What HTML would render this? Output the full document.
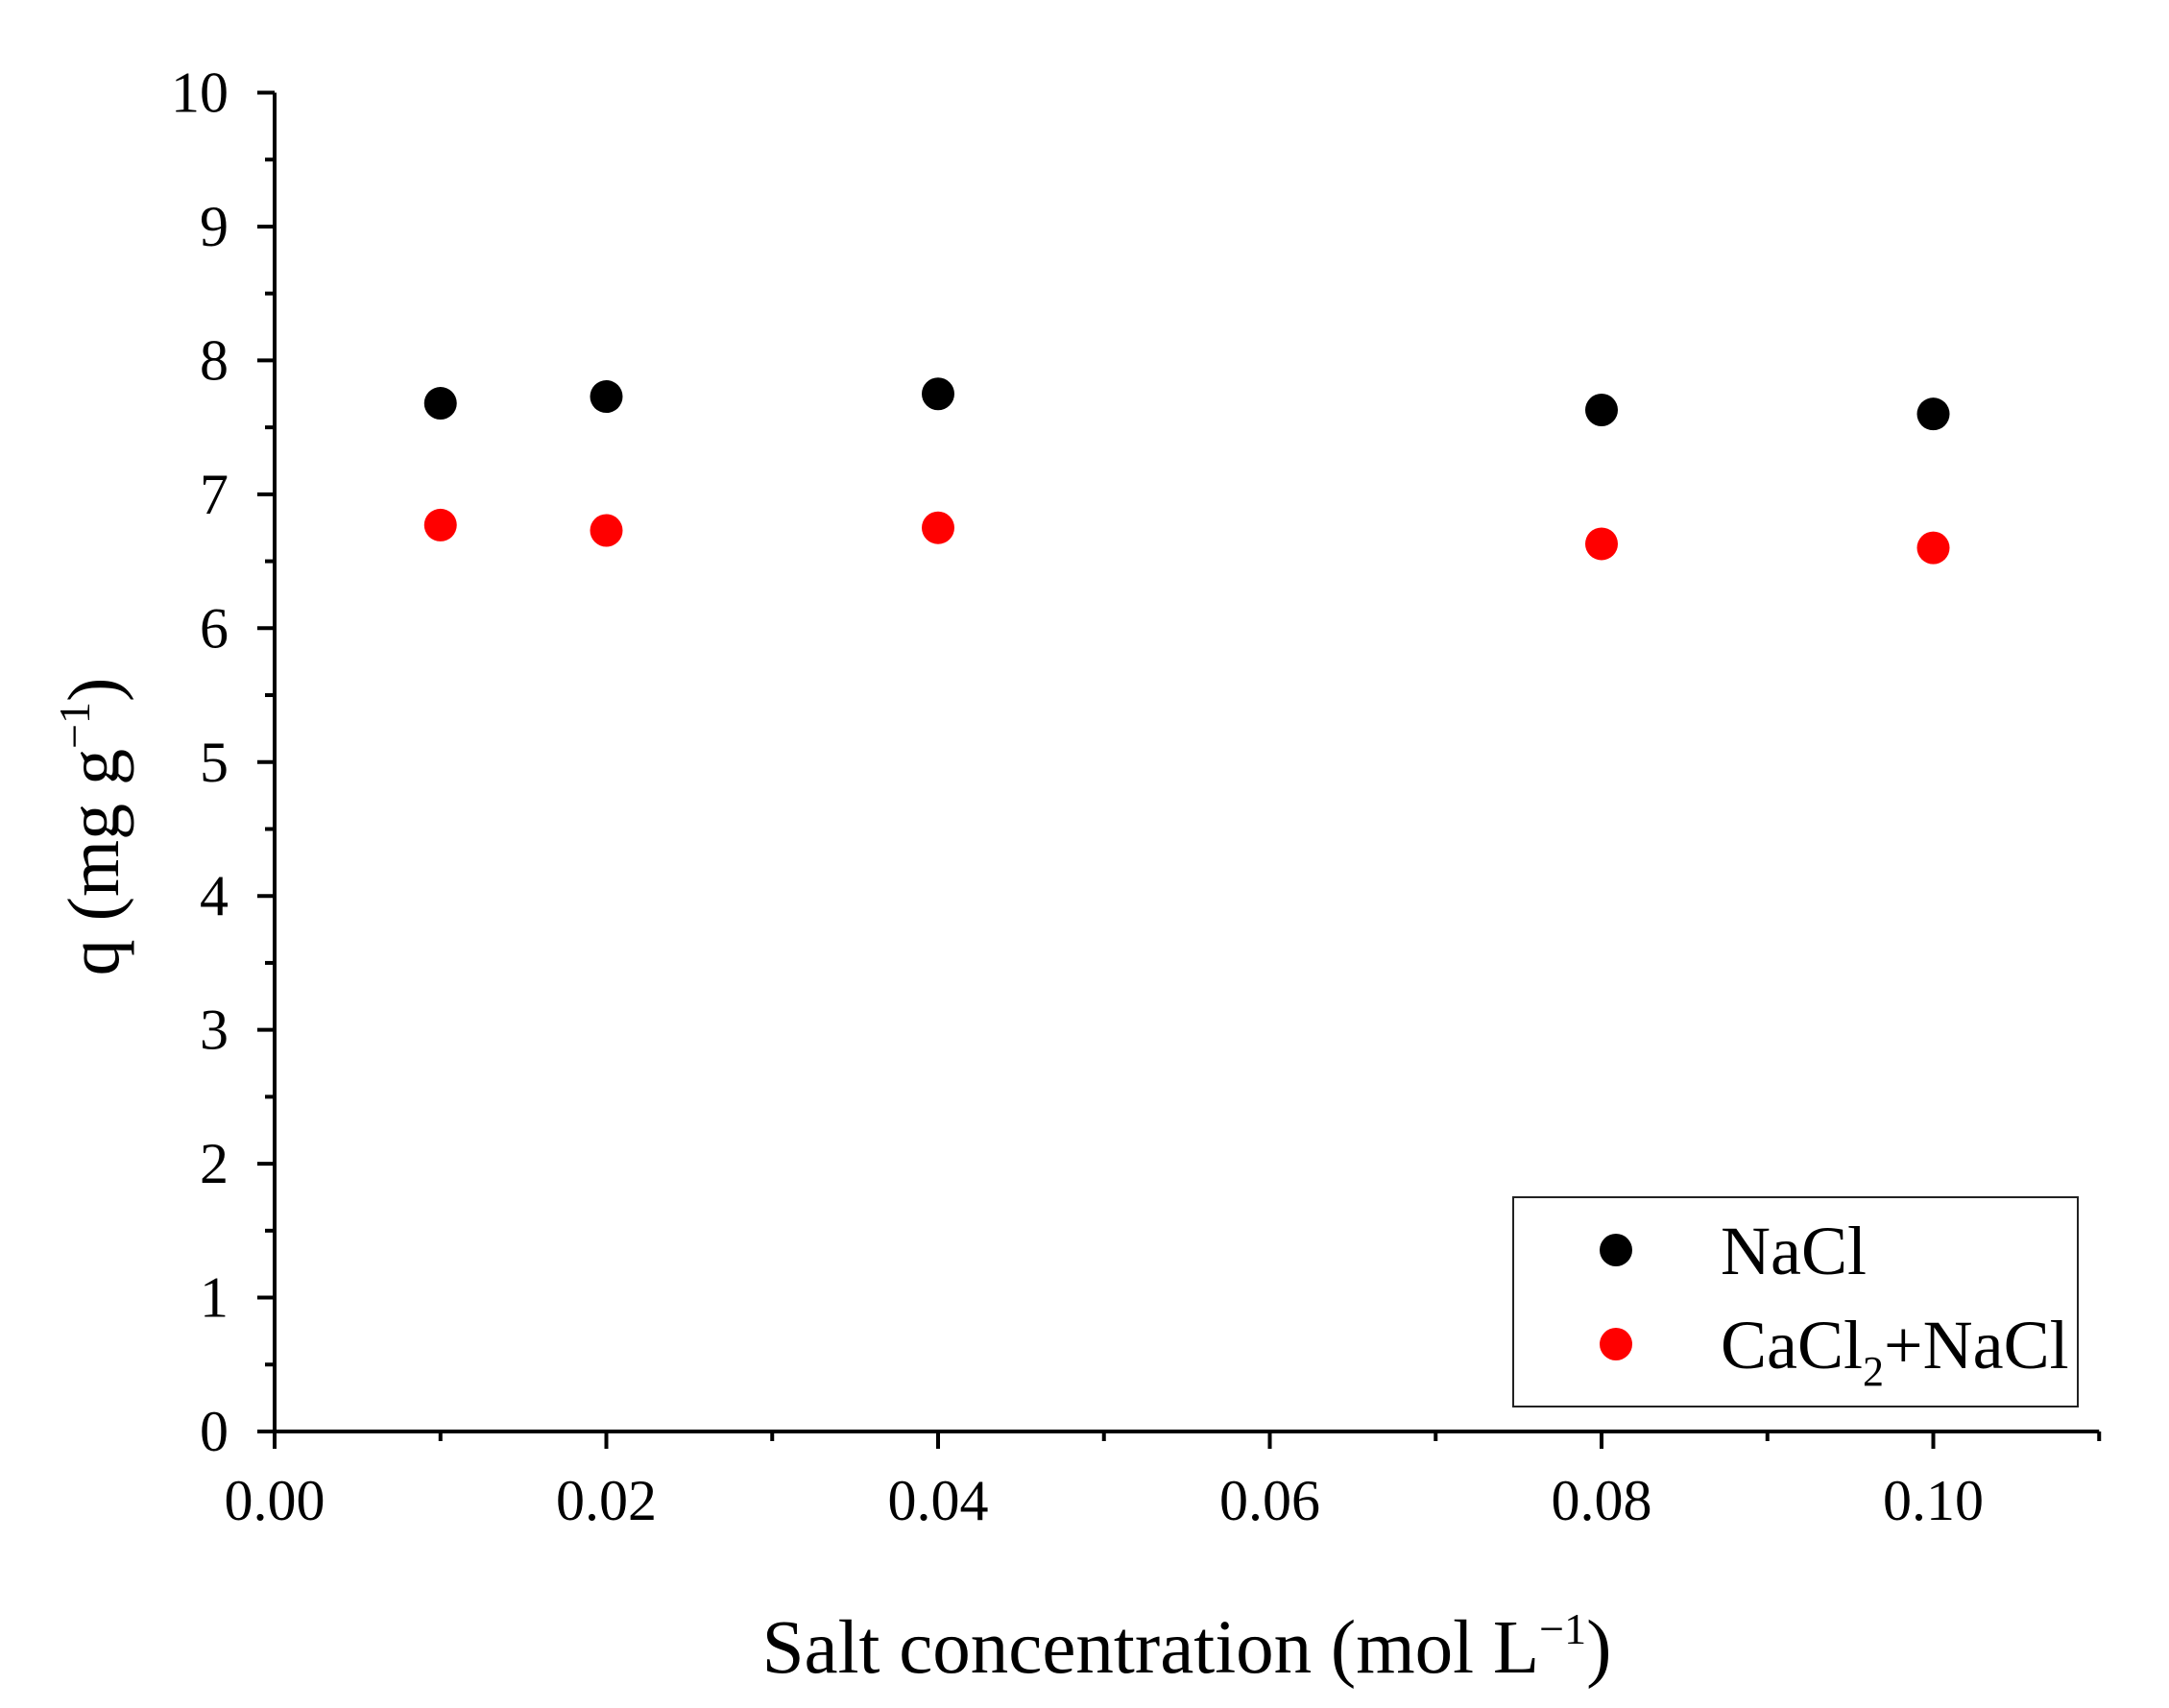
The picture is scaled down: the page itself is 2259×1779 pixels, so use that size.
<!DOCTYPE html>
<html><head><meta charset="utf-8"><style>
html,body{margin:0;padding:0;background:#fff;}
svg{display:block;font-family:"Liberation Serif",serif;}
</style></head><body>
<svg id="chart" width="2259" height="1779" viewBox="0 0 2259 1779">
<g id="axes"></g>
<g id="marks"></g>
<g>
<rect x="1576" y="1247" width="588" height="218" fill="#fff" stroke="#222" stroke-width="2"/>
<circle cx="1683" cy="1302" r="17" fill="#000"/>
<text x="1792" y="1327" font-size="72">NaCl</text>
<circle cx="1683" cy="1400" r="17" fill="#ff0000"/>
<text x="1792" y="1425" font-size="72">CaCl<tspan font-size="44" dy="18">2</tspan><tspan dy="-18">+NaCl</tspan></text>
</g>
<text x="1236" y="1742" font-size="79" text-anchor="middle">Salt concentration (mol L<tspan font-size="46" dy="-30">−1</tspan><tspan dy="30">)</tspan></text>
<text transform="translate(123,861) rotate(-90)" font-size="76" text-anchor="middle">q (mg g<tspan font-size="46" dy="-30">−1</tspan><tspan dy="30">)</tspan></text>
</svg>
<script>
const xCategories = [0.01, 0.02, 0.04, 0.08, 0.10];
const naclValues = [7.68, 7.73, 7.75, 7.63, 7.60];
const cacl2NaclValues = [6.77, 6.73, 6.75, 6.63, 6.60];
const xTickLabels = ["0.00", "0.02", "0.04", "0.06", "0.08", "0.10"];
const yTickLabels = ["0","1","2","3","4","5","6","7","8","9","10"];

const NS = "http://www.w3.org/2000/svg";
const X0 = 286, XPER = 17275, Y0 = 1491, YPER = 139.45;
function sx(v){ return X0 + v * XPER; }
function sy(v){ return Y0 - v * YPER; }
function mk(tag, attrs, parent){
  const e = document.createElementNS(NS, tag);
  for (const k in attrs) e.setAttribute(k, attrs[k]);
  parent.appendChild(e); return e;
}
const axes = document.getElementById('axes');
const marks = document.getElementById('marks');
const sw = 4;
let yl = mk('line', {x1: sx(0), x2: sx(0), y1: sy(10), y2: sy(0), stroke: '#000', 'stroke-width': sw}, axes);


let xl = mk('line', {x1: sx(0), x2: sx(0.11), y1: sy(0), y2: sy(0), stroke: '#000', 'stroke-width': sw}, axes);


for (let i = 0; i <= 20; i++) {
  const v = i / 2, major = i % 2 === 0;
  const t = mk('line', {x1: sx(0) - (major ? 18 : 10), x2: sx(0), y1: sy(v), y2: sy(v), stroke: '#000', 'stroke-width': sw}, axes);
  
  
}
yTickLabels.forEach((lab, i) => {
  const t = mk('text', {x: 238, y: sy(i) + 20, 'font-size': 60, 'text-anchor': 'end'}, axes);
  t.textContent = lab;
  
  
});
for (let i = 0; i <= 11; i++) {
  const v = i / 100, major = i % 2 === 0;
  const t = mk('line', {x1: sx(v), x2: sx(v), y1: sy(0), y2: sy(0) + (major ? 18 : 10), stroke: '#000', 'stroke-width': sw}, axes);
  
  
}
xTickLabels.forEach((lab, i) => {
  const t = mk('text', {x: sx(i * 0.02), y: 1583, 'font-size': 60, 'text-anchor': 'middle'}, axes);
  t.textContent = lab;
  
  
});
xCategories.forEach((x, i) => {
  const a = mk('circle', {cx: sx(x), cy: sy(naclValues[i]), r: 17, fill: '#000'}, marks);
  
  
  const b = mk('circle', {cx: sx(x), cy: sy(cacl2NaclValues[i]), r: 17, fill: '#ff0000'}, marks);
  
  
});
</script>
</body></html>
